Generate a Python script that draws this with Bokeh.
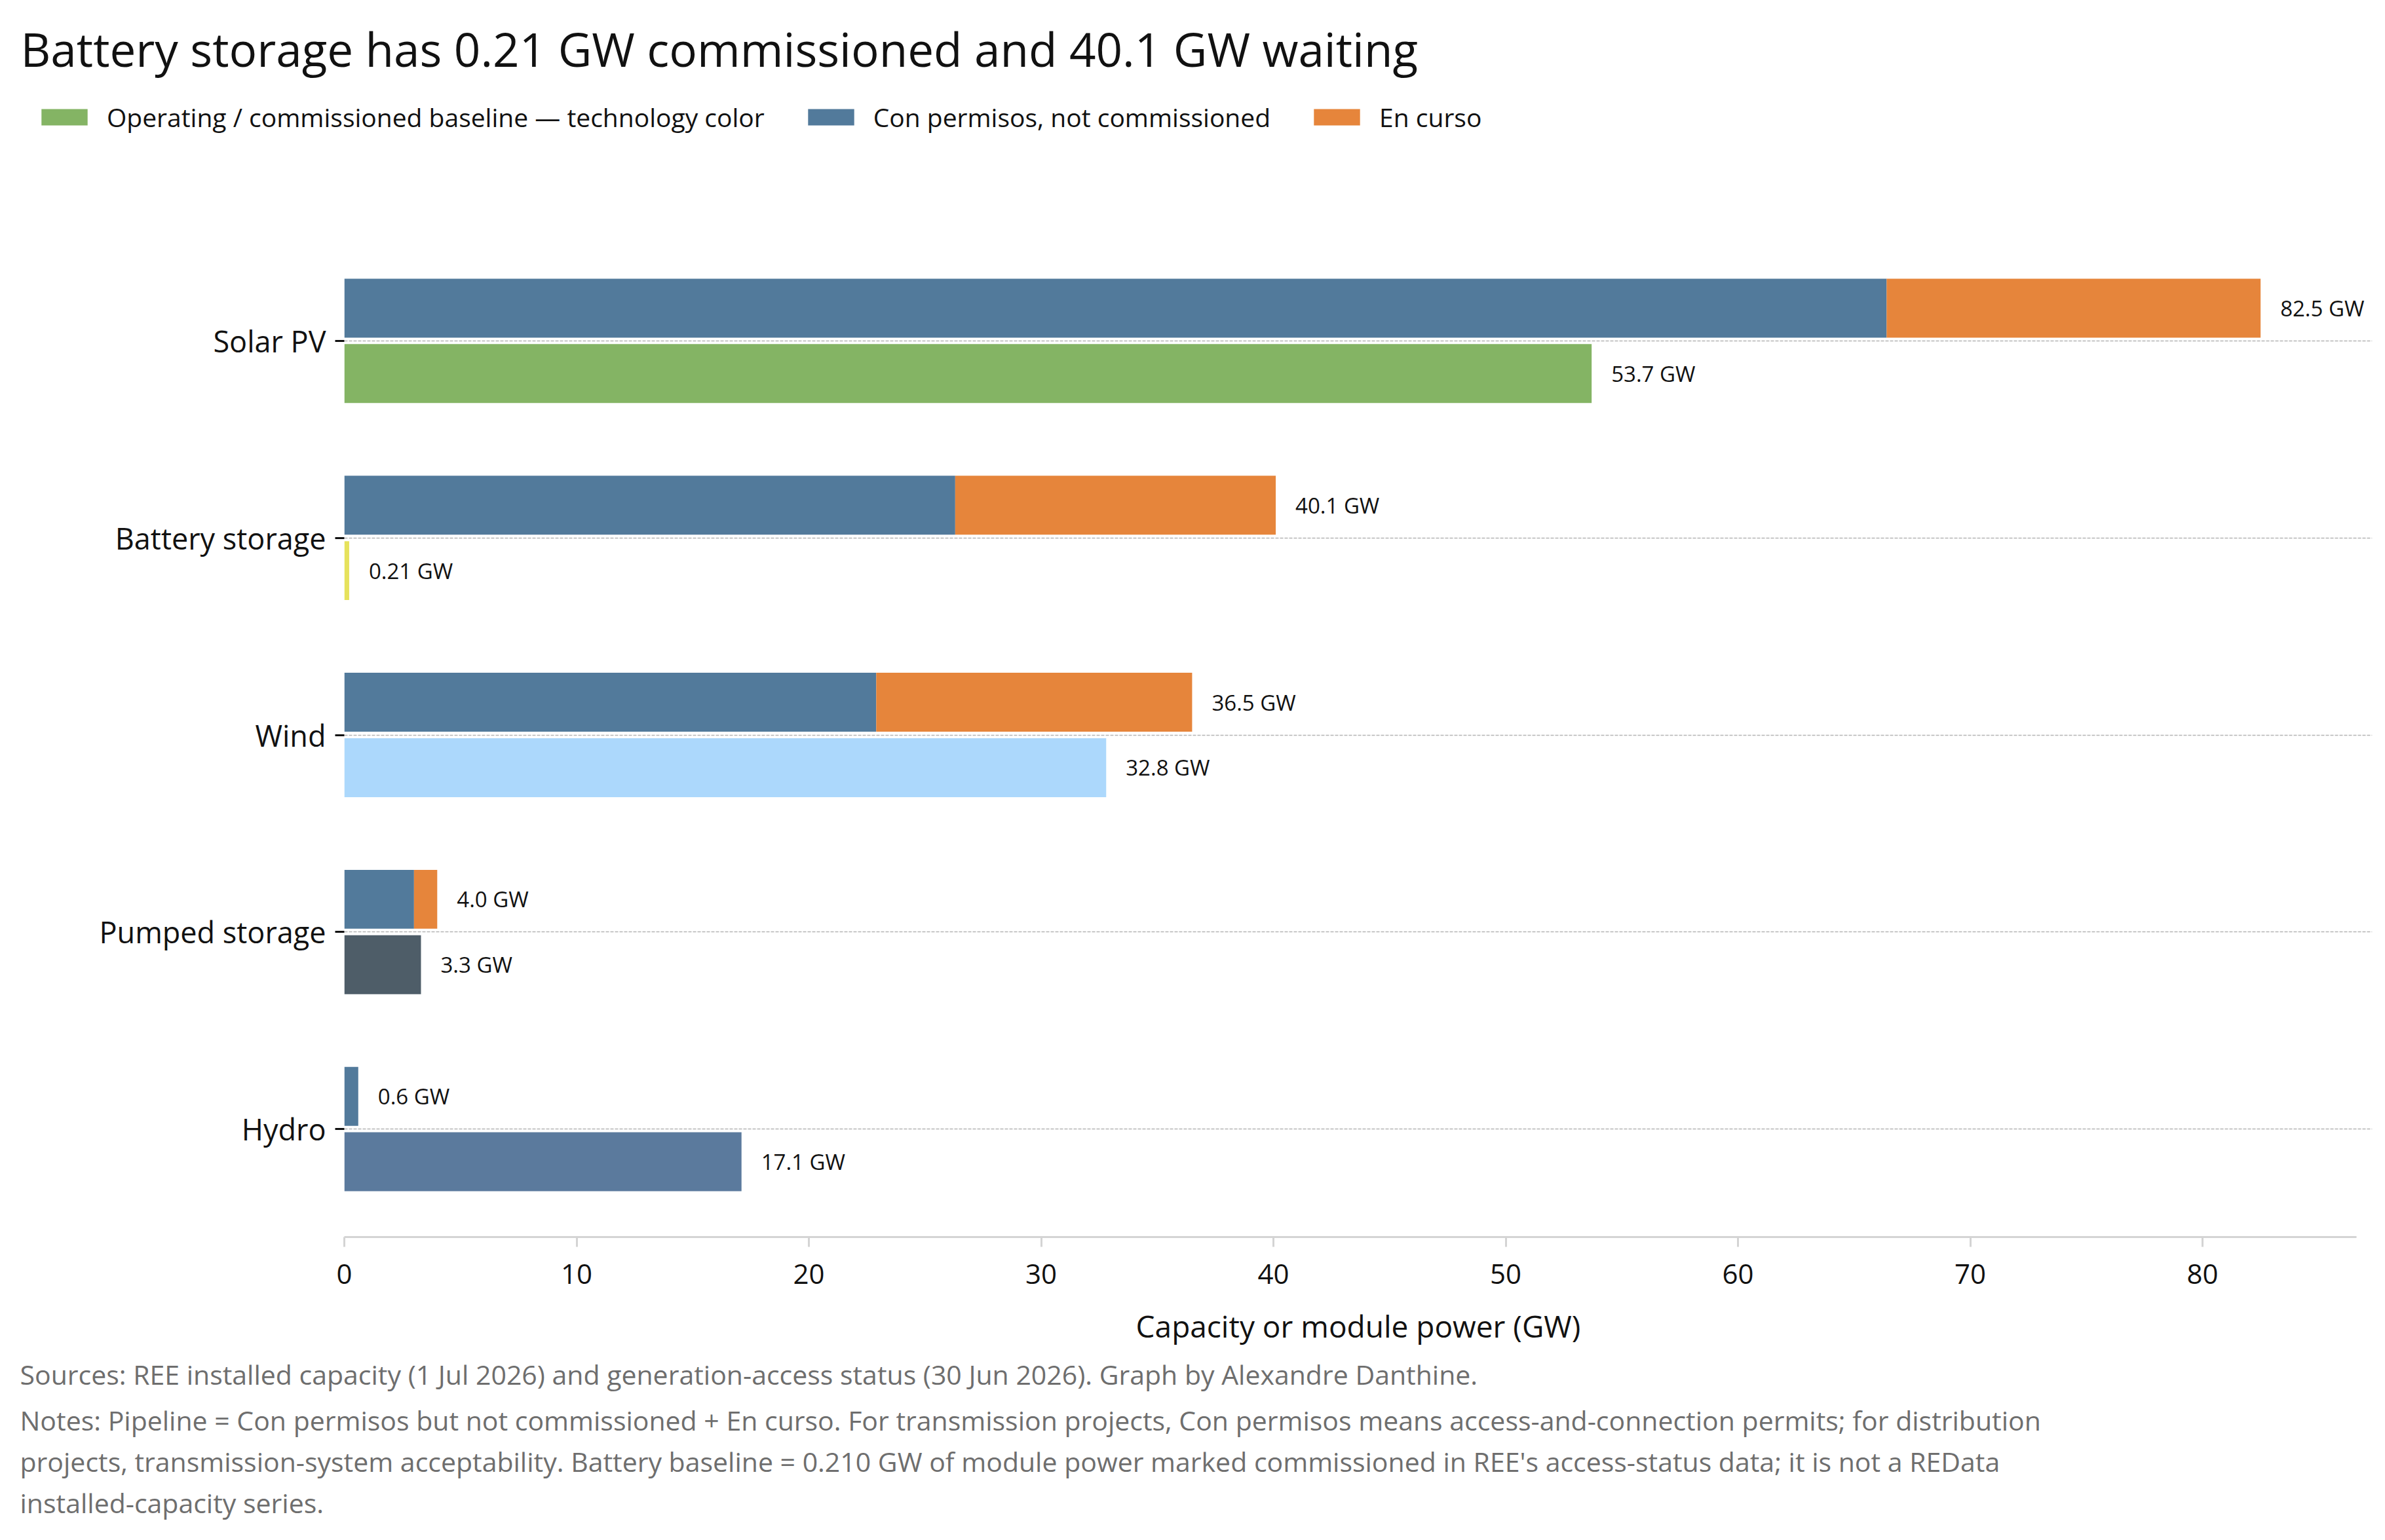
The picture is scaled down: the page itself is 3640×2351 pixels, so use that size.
from bokeh.plotting import figure
from bokeh.layouts import column
from bokeh.models import (ColumnDataSource, Range1d, FixedTicker, Legend, LegendItem,
                          LabelSet, Label, Title)
from bokeh.core.properties import value
from bokeh.embed import file_html
from bokeh.resources import INLINE

# ---------------- data ----------------
categories = ["Solar PV", "Battery storage", "Wind", "Pumped storage", "Hydro"]
con_permisos = [66.4, 26.3, 22.9, 3.0, 0.6]      # GW, permits but not commissioned
en_curso = [16.1, 13.8, 13.6, 1.0, 0.0]          # GW, in progress
baseline = [53.7, 0.21, 32.8, 3.3, 17.1]         # GW, operating / commissioned
baseline_colors = ["#84b464", "#e6e25c", "#acd8fc", "#4e5d68", "#5b7a9d"]
x_ticks = [0, 10, 20, 30, 40, 50, 60, 70, 80]

title_text = "Battery storage has 0.21 GW commissioned and 40.1 GW waiting"
legend_labels = ["Operating / commissioned baseline \u2014 technology color",
                 "Con permisos, not commissioned", "En curso"]
x_label = "Capacity or module power (GW)"
footer_lines = [
    "Sources: REE installed capacity (1 Jul 2026) and generation-access status (30 Jun 2026). Graph by Alexandre Danthine.",
    "Notes: Pipeline = Con permisos but not commissioned + En curso. For transmission projects, Con permisos means access-and-connection permits; for distribution",
    "projects, transmission-system acceptability. Battery baseline = 0.210 GW of module power marked commissioned in REE's access-status data; it is not a REData",
    "installed-capacity series.",
]

C_PERM = "#527a9b"
C_CURSO = "#e6853b"
FONT = "Open Sans"

# ---------------- geometry ----------------
W, H = 3624, 2335
HEAD_H = 300
MAIN_H = H - HEAD_H
ML, MR, MT = 525, 4, 355 - HEAD_H
MB = MAIN_H - (1888 - HEAD_H)
OFF = 0.166
BAR_H = 0.299
X_MAX = 82.5 * 1.05
PX_PER_GW = (3361 - 525) / 80.0
X_END = (W - MR - ML) / PX_PER_GW

n = len(categories)
ypos = [n - 1 - i for i in range(n)]
totals = [a + b for a, b in zip(con_permisos, en_curso)]

pipe = ColumnDataSource(dict(
    y=[p + OFF for p in ypos],
    cp=con_permisos,
    total=totals,
    label=[f"{t:.1f} GW" for t in totals],
))
base = ColumnDataSource(dict(
    y=[p - OFF for p in ypos],
    right=baseline,
    color=baseline_colors,
    label=[f"{v:g} GW" for v in baseline],
))

# ---------------- main chart ----------------
p = figure(width=W, height=MAIN_H, x_range=Range1d(0, X_END), y_range=Range1d(-0.548, n - 1 + 0.548),
           output_backend="svg", toolbar_location=None,
           min_border_left=ML, min_border_right=MR, min_border_top=MT, min_border_bottom=MB)
p.outline_line_color = None
p.background_fill_color = "white"
p.border_fill_color = "white"

r_cp = p.hbar(y="y", left=0, right="cp", height=BAR_H, source=pipe, fill_color=C_PERM, line_color=None)
r_ec = p.hbar(y="y", left="cp", right="total", height=BAR_H, source=pipe, fill_color=C_CURSO, line_color=None)
r_base = p.hbar(y="y", left=0, right="right", height=BAR_H, source=base, fill_color="color", line_color=None)

for src, xcol in ((pipe, "total"), (base, "right")):
    p.add_layout(LabelSet(x=xcol, y="y", text="label", source=src, x_offset=30,
                          text_align="left", text_baseline="middle",
                          text_font=value(FONT), text_font_size=value("33px"), text_color="#111111"))

p.xaxis.ticker = FixedTicker(ticks=x_ticks)
p.xaxis.bounds = (0, X_MAX)
p.xaxis.axis_label = x_label
p.xaxis.axis_label_text_font = FONT
p.xaxis.axis_label_text_font_size = "46px"
p.xaxis.axis_label_text_font_style = "normal"
p.xaxis.axis_label_text_color = "#111111"
p.xaxis.axis_label_standoff = 30
p.xaxis.axis_line_color = "#d4d4d4"
p.xaxis.axis_line_width = 3
p.xaxis.major_tick_line_color = "#d4d4d4"
p.xaxis.major_tick_line_width = 3
p.xaxis.major_tick_out = 15
p.xaxis.major_tick_in = 0
p.xaxis.minor_tick_line_color = None
p.xaxis.major_label_text_font = FONT
p.xaxis.major_label_text_font_size = "42px"
p.xaxis.major_label_text_color = "#111111"
p.xaxis.major_label_standoff = 26

p.yaxis.ticker = FixedTicker(ticks=ypos)
p.yaxis.major_label_overrides = {yp: c for yp, c in zip(ypos, categories)}
p.yaxis.axis_line_color = None
p.yaxis.major_tick_line_color = "#111111"
p.yaxis.major_tick_line_width = 3
p.yaxis.major_tick_out = 14
p.yaxis.major_tick_in = 0
p.yaxis.minor_tick_line_color = None
p.yaxis.major_label_text_font = FONT
p.yaxis.major_label_text_font_size = "45px"
p.yaxis.major_label_text_color = "#111111"
p.yaxis.major_label_standoff = 14

p.xgrid.visible = False
p.ygrid.grid_line_color = "#b5b5b5"
p.ygrid.grid_line_dash = "5 2"
p.ygrid.grid_line_width = 1.5

for i, line in enumerate(footer_lines):
    p.add_layout(Title(text=line, align="left", offset=30 - ML, standoff=20 if i == 0 else 5,
                       text_font=FONT, text_font_size="41px", text_font_style="normal",
                       text_color="#6e6e6e"), "below")

# ---------------- header: title + legend ----------------
head = figure(width=W, height=HEAD_H, x_range=Range1d(0, 1), y_range=Range1d(0, 1),
              x_axis_type=None, y_axis_type=None, output_backend="svg", toolbar_location=None,
              min_border=0)
head.outline_line_color = None
head.background_fill_color = "white"
head.border_fill_color = "white"

try:
    head.frame_align = False
    p.frame_align = False
except Exception:
    pass

h_base = head.hbar(y="y", left=0, right="right", height=BAR_H, source=base, fill_color="color",
                   line_color=None, visible=False)
h_cp = head.hbar(y="y", left=0, right="cp", height=BAR_H, source=pipe, fill_color=C_PERM,
                 line_color=None, visible=False)
h_ec = head.hbar(y="y", left="cp", right="total", height=BAR_H, source=pipe, fill_color=C_CURSO,
                 line_color=None, visible=False)

legend = Legend(items=[
    LegendItem(label=legend_labels[0], renderers=[h_base], index=0),
    LegendItem(label=legend_labels[1], renderers=[h_cp]),
    LegendItem(label=legend_labels[2], renderers=[h_ec]),
], orientation="horizontal", location=(54, HEAD_H - 182 - 23), click_policy="none",
    glyph_width=88, glyph_height=31, label_standoff=21, spacing=57,
    padding=0, margin=0, border_line_alpha=0, background_fill_alpha=0,
    label_text_font=FONT, label_text_font_size="39px", label_text_color="#111111")
head.add_layout(legend)

head.add_layout(Label(x=31, y=HEAD_H - 74, x_units="screen", y_units="screen",
                      text=title_text, text_font=FONT, text_font_size="71px",
                      text_color="#111111", text_baseline="alphabetic", text_align="left"))

layout = column(head, p, spacing=0)
open("out.html", "w").write(file_html(layout, INLINE))
